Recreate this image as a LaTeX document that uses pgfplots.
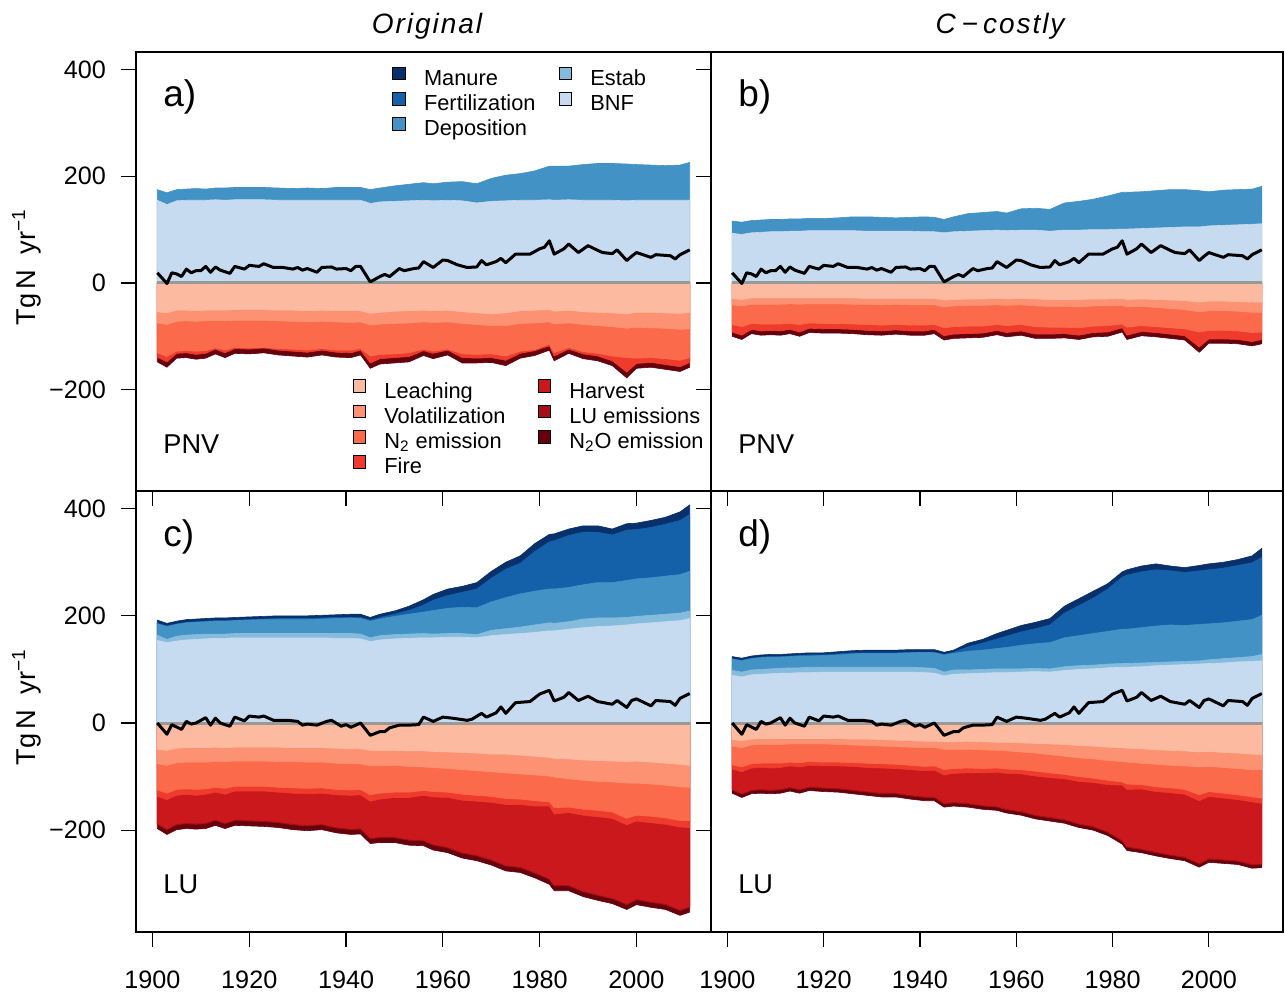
\documentclass[border=0pt]{standalone}
\usepackage{fontspec}
\setmainfont{Liberation Sans}
\usepackage{pgfplots}
\usepackage{pgfplotstable}
\pgfplotsset{compat=1.18}

\definecolor{cMan}{HTML}{08306B}
\definecolor{cFert}{HTML}{1561A9}
\definecolor{cDep}{HTML}{4292C6}
\definecolor{cEst}{HTML}{85BCDE}
\definecolor{cBNF}{HTML}{C6DBEF}
\definecolor{cLeach}{HTML}{FCBBA1}
\definecolor{cVol}{HTML}{FC9272}
\definecolor{cNtwo}{HTML}{FB6A4A}
\definecolor{cFire}{HTML}{EF3B2C}
\definecolor{cHarv}{HTML}{CB181D}
\definecolor{cLU}{HTML}{A50F15}
\definecolor{cNtwoO}{HTML}{67000D}

% ---------- panel a) PNV, Original ----------
\pgfplotstableread{
year dep bnf leach vol n2 fire tot
1901 175 155 -54 -75 -131 -139 -148
1903 169 147 -56 -78 -138 -148 -158
1905 175 154 -51 -72 -128 -132 -141
1907 176 155 -51 -71 -127 -131 -140
1909 177 155 -52 -72 -128 -134 -143
1911 176 155 -51 -71 -127 -132 -141
1913 178 156 -51 -70 -122 -124 -133
1915 178 155 -51 -71 -126 -131 -140
1917 179 156 -50 -70 -121 -123 -132
1920 179 156 -50 -70 -122 -124 -133
1923 179 156 -50 -70 -121 -122 -131
1926 178 155 -51 -71 -123 -126 -135
1929 177 155 -51 -72 -124 -128 -137
1932 178 155 -52 -73 -126 -130 -139
1935 177 155 -51 -72 -123 -126 -135
1938 179 155 -52 -73 -126 -130 -139
1941 179 155 -52 -74 -126 -131 -140
1943 179 155 -52 -73 -123 -126 -135
1945 175 149 -57 -79 -137 -150 -160
1947 178 152 -55 -77 -134 -142 -152
1950 182 153 -53 -76 -133 -140 -150
1953 185 154 -52 -75 -131 -138 -148
1956 188 155 -51 -73 -124 -127 -136
1958 186 154 -52 -74 -128 -132 -142
1961 189 155 -51 -73 -124 -126 -135
1964 190 154 -54 -76 -133 -140 -150
1967 186 150 -56 -78 -134 -141 -150
1970 196 153 -58 -80 -133 -140 -149
1973 202 154 -56 -80 -137 -145 -155
1976 205 155 -52 -76 -128 -132 -141
1979 210 155 -51 -75 -125 -127 -136
1982 219 156 -50 -73 -115 -118 -126
1983 219 155 -53 -77 -131 -137 -146
1986 219 156 -51 -75 -121 -124 -132
1989 222 155 -54 -78 -129 -133 -142
1992 224 155 -55 -80 -132 -137 -146
1995 224 155 -56 -82 -137 -146 -155
1998 223 154 -58 -85 -140 -167 -178
2000 222 155 -55 -83 -141 -151 -160
2003 221 155 -55 -84 -140 -149 -158
2006 220 155 -56 -85 -142 -153 -162
2009 221 155 -57 -87 -145 -157 -166
2011 226 155 -55 -86 -140 -149 -158
}\tabA

% ---------- panel b) PNV, C-costly ----------
\pgfplotstableread{
year dep bnf leach vol n2 fire tot
1901 116 93 -29 -41 -78 -92 -100
1903 114 91 -31 -43 -82 -98 -106
1905 117 94 -28 -40 -76 -87 -95
1907 118 95 -28 -40 -77 -90 -98
1909 119 96 -28 -40 -77 -89 -97
1911 119 96 -28 -40 -77 -90 -98
1913 120 97 -28 -39 -76 -87 -95
1915 120 97 -28 -40 -78 -92 -100
1917 121 98 -28 -39 -75 -85 -93
1920 121 98 -28 -39 -76 -86 -94
1923 122 98 -28 -39 -76 -86 -94
1926 124 98 -28 -40 -77 -87 -95
1929 124 97 -29 -40 -78 -89 -97
1932 123 97 -29 -41 -79 -90 -98
1935 122 97 -29 -40 -78 -88 -96
1938 123 97 -29 -41 -79 -90 -98
1941 124 96 -29 -41 -79 -90 -98
1943 123 96 -29 -41 -78 -87 -95
1945 119 94 -32 -45 -84 -99 -107
1947 124 96 -31 -43 -82 -96 -104
1950 130 97 -30 -42 -81 -95 -103
1953 132 98 -30 -42 -81 -94 -102
1956 134 99 -29 -41 -78 -89 -97
1958 131 98 -30 -42 -80 -93 -101
1961 139 99 -29 -41 -78 -90 -98
1964 140 99 -30 -43 -82 -96 -104
1967 138 97 -31 -44 -83 -96 -104
1970 150 99 -31 -44 -83 -95 -103
1973 153 99 -31 -45 -84 -98 -106
1976 157 100 -30 -43 -81 -93 -101
1979 163 100 -30 -43 -80 -92 -100
1982 170 101 -29 -42 -77 -84 -92
1983 170 101 -31 -45 -83 -98 -106
1986 171 102 -30 -44 -80 -91 -99
1989 173 103 -31 -46 -82 -93 -101
1992 175 104 -32 -48 -84 -96 -104
1995 175 105 -33 -50 -86 -99 -107
1998 173 105 -36 -54 -92 -120 -130
2000 171 107 -34 -52 -89 -105 -113
2003 174 108 -34 -52 -89 -105 -113
2006 175 109 -35 -53 -90 -106 -114
2009 176 110 -36 -55 -93 -110 -118
2011 181 111 -36 -55 -92 -106 -114
}\tabB

% ---------- panel c) LU, Original ----------
\pgfplotstableread{
year man fert dep est bnf leach vol n2 fire harv lu tot
1901 192 186 185 164 154 -49 -76 -125 -137 -187 -189 -197
1903 186 181 180 156 150 -51 -79 -131 -143 -197 -199 -208
1905 190 185 184 162 153 -47 -74 -124 -135 -188 -190 -199
1907 193 188 187 164 155 -46 -73 -123 -133 -186 -188 -197
1909 194 189 188 165 156 -46 -73 -124 -135 -187 -189 -198
1911 195 190 189 166 157 -46 -73 -123 -133 -186 -188 -197
1913 196 191 190 166 158 -45 -72 -120 -129 -180 -182 -191
1915 196 191 190 166 158 -46 -72 -122 -133 -186 -188 -197
1917 197 192 191 167 159 -45 -71 -118 -127 -180 -182 -191
1920 198 193 192 167 159 -45 -71 -118 -127 -181 -183 -192
1923 199 194 193 167 159 -45 -71 -118 -127 -182 -184 -193
1926 200 195 193 167 159 -45 -72 -120 -129 -184 -186 -195
1929 200 195 193 167 159 -46 -72 -121 -131 -188 -190 -199
1932 200 195 193 167 159 -46 -73 -122 -132 -190 -192 -201
1935 201 196 194 167 159 -46 -73 -121 -131 -188 -190 -199
1938 202 197 195 167 158 -47 -75 -124 -134 -194 -196 -205
1941 203 197 196 167 158 -48 -76 -125 -135 -197 -199 -208
1943 203 197 195 166 157 -48 -76 -124 -134 -196 -198 -207
1945 197 192 190 159 152 -51 -80 -134 -146 -214 -216 -225
1947 203 197 194 163 155 -51 -80 -131 -142 -212 -214 -223
1950 209 203 199 165 157 -51 -79 -129 -139 -212 -214 -223
1953 218 210 203 166 158 -52 -81 -129 -139 -217 -219 -228
1956 230 220 207 167 159 -52 -82 -126 -135 -218 -220 -229
1958 240 229 210 166 159 -53 -83 -128 -138 -226 -228 -237
1961 250 238 214 167 160 -54 -85 -129 -139 -231 -233 -242
1964 255 244 216 167 160 -55 -87 -133 -144 -241 -243 -252
1967 262 250 215 165 159 -56 -89 -135 -146 -246 -248 -257
1970 283 270 226 173 163 -58 -91 -137 -148 -254 -256 -265
1973 300 287 234 176 165 -58 -93 -141 -152 -265 -267 -276
1976 312 298 241 179 167 -60 -95 -142 -152 -268 -270 -279
1979 335 320 246 183 169 -62 -97 -145 -155 -278 -280 -289
1982 352 338 250 187 172 -64 -99 -147 -155 -290 -292 -301
1983 353 340 250 186 172 -66 -101 -158 -170 -302 -304 -313
1986 362 350 253 189 175 -67 -104 -157 -167 -302 -304 -313
1989 368 356 258 194 178 -69 -107 -161 -172 -313 -315 -324
1992 368 356 262 196 180 -70 -109 -163 -175 -320 -322 -331
1995 362 351 262 196 181 -71 -110 -166 -178 -326 -328 -337
1998 372 360 266 197 183 -72 -112 -178 -190 -337 -339 -348
2000 373 361 269 199 185 -71 -112 -172 -183 -328 -330 -339
2003 378 365 271 201 187 -73 -114 -174 -186 -333 -335 -344
2006 384 371 274 203 189 -75 -116 -177 -189 -337 -339 -348
2009 394 378 277 205 191 -77 -119 -182 -194 -348 -350 -359
2011 407 389 283 209 195 -79 -120 -182 -195 -342 -344 -353
}\tabC

% ---------- panel d) LU, C-costly ----------
\pgfplotstableread{
year man fert dep est bnf leach vol n2 fire harv lu tot
1901 124 120 119 98 89 -31 -43 -78 -86 -123 -125 -131
1903 121 117 116 95 86 -33 -46 -82 -91 -131 -133 -139
1905 125 121 120 99 90 -30 -41 -76 -84 -124 -126 -132
1907 127 123 122 100 91 -29 -40 -75 -83 -123 -125 -131
1909 128 124 123 101 92 -29 -40 -75 -84 -124 -126 -132
1911 128 124 123 102 93 -29 -40 -75 -83 -123 -125 -131
1913 129 125 124 103 93 -29 -39 -73 -80 -119 -121 -127
1915 130 126 125 103 94 -29 -39 -74 -82 -123 -125 -131
1917 131 127 125 104 94 -29 -39 -72 -79 -118 -120 -126
1920 131 127 126 104 95 -29 -39 -73 -80 -120 -122 -128
1923 133 129 127 104 95 -29 -40 -73 -80 -121 -123 -129
1926 135 131 129 104 95 -30 -41 -74 -81 -124 -126 -132
1929 136 131 130 104 95 -30 -42 -75 -83 -127 -129 -135
1932 136 131 130 104 95 -31 -43 -76 -84 -130 -132 -138
1935 136 131 130 104 95 -32 -44 -77 -85 -130 -132 -138
1938 137 132 131 104 95 -33 -45 -79 -87 -134 -136 -142
1941 137 132 132 103 94 -34 -46 -81 -89 -137 -139 -145
1943 137 132 131 102 93 -34 -46 -80 -88 -137 -139 -145
1945 132 128 127 95 88 -35 -49 -87 -97 -149 -151 -157
1947 136 132 130 99 91 -35 -49 -85 -94 -147 -149 -155
1950 149 142 134 99 92 -34 -49 -84 -93 -149 -151 -157
1953 156 149 136 100 93 -35 -50 -85 -93 -153 -155 -161
1956 167 157 139 101 94 -36 -51 -84 -92 -155 -157 -163
1958 173 162 141 101 94 -36 -52 -86 -94 -160 -162 -168
1961 182 170 145 101 95 -37 -54 -87 -95 -164 -166 -172
1964 188 176 148 102 96 -38 -56 -90 -99 -171 -173 -179
1967 195 183 150 101 95 -39 -59 -93 -102 -175 -177 -183
1970 218 205 159 105 98 -40 -62 -96 -104 -179 -181 -187
1973 232 219 163 107 100 -42 -65 -100 -109 -187 -189 -195
1976 246 233 167 108 101 -43 -67 -103 -111 -192 -194 -200
1979 260 250 171 110 103 -45 -70 -107 -115 -202 -204 -210
1982 282 272 175 111 104 -46 -72 -110 -116 -218 -220 -226
1983 286 276 175 111 104 -47 -73 -114 -124 -230 -232 -238
1986 293 282 178 112 105 -48 -75 -115 -123 -234 -236 -242
1989 297 286 181 113 107 -50 -77 -119 -128 -240 -242 -248
1992 293 284 183 114 108 -51 -79 -121 -130 -245 -247 -253
1995 290 281 182 115 109 -52 -80 -124 -133 -249 -251 -257
1998 294 284 184 116 110 -54 -82 -134 -145 -261 -263 -269
2000 297 286 185 118 111 -53 -81 -128 -137 -252 -254 -260
2003 300 289 187 120 112 -55 -83 -131 -140 -254 -256 -262
2006 305 294 190 122 114 -56 -85 -134 -143 -256 -258 -264
2009 312 299 193 124 115 -58 -87 -138 -147 -263 -265 -271
2011 326 309 201 128 116 -59 -87 -140 -150 -262 -264 -270
}\tabD

% ---------- net balance, PNV panels ----------
\pgfplotstableread{
year net
1901 19
1903 -1
1904 19
1905 17
1906 12
1907 26
1908 19
1909 23
1910 23
1911 31
1912 20
1913 30
1914 24
1916 18
1917 31
1919 26
1920 33
1922 31
1923 36
1925 29
1927 29
1929 26
1930 29
1931 24
1932 27
1934 20
1935 29
1937 30
1938 26
1940 27
1941 23
1942 31
1943 31
1945 2
1947 12
1948 16
1949 12
1951 27
1952 23
1954 27
1955 28
1956 40
1958 29
1960 43
1961 42
1963 34
1965 29
1967 30
1968 42
1969 34
1971 40
1972 46
1973 38
1975 54
1978 54
1980 64
1981 67
1982 79
1983 54
1985 64
1986 73
1988 57
1990 70
1992 61
1993 57
1995 55
1996 62
1998 42
1999 50
2000 57
2003 48
2004 53
2007 51
2008 45
2009 53
2011 62
}\netPNV

% ---------- net balance, LU panels ----------
\pgfplotstableread{
year net
1901 0
1903 -21
1904 -3
1906 -12
1907 3
1908 -2
1909 0
1911 10
1912 -4
1913 9
1914 0
1916 -6
1917 11
1919 4
1920 13
1922 11
1923 13
1925 5
1928 5
1930 3
1931 -4
1932 -2
1934 -4
1936 3
1937 5
1939 -6
1940 -3
1941 -8
1943 0
1945 -23
1947 -16
1948 -16
1949 -9
1951 -4
1953 -4
1955 -3
1956 11
1958 3
1960 11
1962 9
1965 5
1966 7
1968 18
1969 11
1971 19
1972 30
1973 18
1975 38
1978 40
1980 54
1982 61
1983 41
1985 48
1986 57
1988 42
1990 50
1992 40
1995 35
1996 42
1998 29
1999 42
2000 45
2003 32
2004 42
2007 40
2008 33
2009 46
2011 55
}\netLU

\pgfplotsset{
  panel/.style={
    scale only axis,
    xmin=1896.6, xmax=2015.4, ymin=-390, ymax=433,
    axis line style={line width=0.8pt},
    tick align=outside, xtick pos=left, ytick pos=left,
    major tick length=7.5pt,
    tick style={line width=0.6pt, black},
    xtick={1900,1920,1940,1960,1980,2000},
    ytick={-200,0,200,400},
    tick label style={font=\fontsize{12.6}{14}\selectfont},
    xticklabel style={yshift=-8.5pt},
    yticklabel style={xshift=-4pt},
    ylabel style={font=\fontsize{13.6}{15}\selectfont, at={(axis description cs:-0.19,0.51)}, anchor=center},
    clip=true,
  },
  xlab/.style={xticklabels={1900,1920,1940,1960,1980,2000}},
  xnolab/.style={xticklabels={{},{},{},{},{},{}}},
  ylab/.style={yticklabels={−200,0,200,400}},
  ynolab/.style={yticklabels={{},{},{},{}}},
  band/.style={draw=#1, line width=0.3pt, fill=#1},
  lgbox/.style={legend image code/.code={\draw[##1, draw=black, line width=0.5pt] (0pt,0.3pt) rectangle (6.4pt,6.7pt);}},
}
\tikzset{
  panellab/.style={anchor=base west, inner sep=0pt, font=\fontsize{18.5}{20}\selectfont},
  scenlab/.style={anchor=base west, inner sep=0pt, font=\fontsize{13.6}{15}\selectfont},
}

\begin{document}
\begin{tikzpicture}
\useasboundingbox (0,0) rectangle (642.5pt,497pt);

\node[anchor=base, font=\fontsize{14}{16}\selectfont\itshape\addfontfeature{LetterSpace=7}] at (213.5pt,480pt) {Original};
\node[anchor=base, font=\fontsize{14}{16}\selectfont\itshape\addfontfeature{LetterSpace=7}] at (500pt,480pt) {C\hspace{3pt}−\hspace{2.5pt}costly};

% ===== a) =====
\begin{axis}[panel, xnolab, ylab, at={(68pt,251.5pt)}, anchor=south west, width=287.5pt, height=219.5pt,
  ylabel={Tg\,N\ \ yr\textsuperscript{−1}},
  legend columns=2, legend cell align=left,
  legend style={draw=none, fill=none, inner sep=2pt, at={(axis description cs:0.438,0.9765)}, anchor=north west,
    font=\fontsize{10.9}{12}\selectfont, row sep=0pt,
    nodes={inner sep=1pt, text height=7.1pt, text depth=2.2pt},
    /tikz/every odd column/.append style={column sep=8pt},
    /tikz/every even column/.append style={column sep=10.5pt}}]
\addplot[band=cDep, forget plot] table[x=year,y=dep]{\tabA} \closedcycle;
\addplot[band=cBNF, forget plot] table[x=year,y=bnf]{\tabA} \closedcycle;
\addplot[band=cNtwoO, forget plot] table[x=year,y=tot]{\tabA} \closedcycle;
\addplot[band=cFire, forget plot] table[x=year,y=fire]{\tabA} \closedcycle;
\addplot[band=cNtwo, forget plot] table[x=year,y=n2]{\tabA} \closedcycle;
\addplot[band=cVol, forget plot] table[x=year,y=vol]{\tabA} \closedcycle;
\addplot[band=cLeach, forget plot] table[x=year,y=leach]{\tabA} \closedcycle;
\addplot[black!40, line width=1.5pt, forget plot] coordinates {(1901,0) (2011,0)};
\addplot[black, line width=1.5pt, line join=round, forget plot] table[x=year,y=net]{\netPNV};
\addlegendimage{lgbox, fill=cMan}\addlegendentry{Manure}
\addlegendimage{lgbox, fill=cEst}\addlegendentry{Estab}
\addlegendimage{lgbox, fill=cFert}\addlegendentry{Fertilization}
\addlegendimage{lgbox, fill=cBNF}\addlegendentry{BNF}
\addlegendimage{lgbox, fill=cDep}\addlegendentry{Deposition}
\node[panellab] at (axis description cs:0.047,0.875) {a)};
\node[scenlab] at (axis description cs:0.047,0.085) {PNV};
\end{axis}

% red legend overlay for a)
\begin{axis}[scale only axis, at={(68pt,251.5pt)}, anchor=south west, width=287.5pt, height=219.5pt,
  xmin=1896.6, xmax=2015.4, ymin=-390, ymax=433, hide axis,
  legend columns=2, legend cell align=left,
  legend style={draw=none, fill=none, inner sep=2pt, at={(axis description cs:0.369,0.264)}, anchor=north west,
    font=\fontsize{10.9}{12}\selectfont, row sep=0pt,
    nodes={inner sep=1pt, text height=7.1pt, text depth=2.2pt},
    /tikz/every odd column/.append style={column sep=8pt},
    /tikz/every even column/.append style={column sep=15pt}}]
\addlegendimage{lgbox, fill=cLeach}\addlegendentry{Leaching}
\addlegendimage{lgbox, fill=cHarv}\addlegendentry{Harvest}
\addlegendimage{lgbox, fill=cVol}\addlegendentry{Volatilization}
\addlegendimage{lgbox, fill=cLU}\addlegendentry{LU emissions}
\addlegendimage{lgbox, fill=cNtwo}\addlegendentry{N\textsubscript{2} emission}
\addlegendimage{lgbox, fill=cNtwoO}\addlegendentry{N\textsubscript{2}O emission}
\addlegendimage{lgbox, fill=cFire}\addlegendentry{Fire}
\end{axis}

% ===== b) =====
\begin{axis}[panel, xnolab, ynolab, at={(355.5pt,251.5pt)}, anchor=south west, width=286pt, height=219.5pt]
\addplot[band=cDep] table[x=year,y=dep]{\tabB} \closedcycle;
\addplot[band=cBNF] table[x=year,y=bnf]{\tabB} \closedcycle;
\addplot[band=cNtwoO] table[x=year,y=tot]{\tabB} \closedcycle;
\addplot[band=cFire] table[x=year,y=fire]{\tabB} \closedcycle;
\addplot[band=cNtwo] table[x=year,y=n2]{\tabB} \closedcycle;
\addplot[band=cVol] table[x=year,y=vol]{\tabB} \closedcycle;
\addplot[band=cLeach] table[x=year,y=leach]{\tabB} \closedcycle;
\addplot[black!40, line width=1.5pt] coordinates {(1901,0) (2011,0)};
\addplot[black, line width=1.5pt, line join=round] table[x=year,y=net]{\netPNV};
\node[panellab] at (axis description cs:0.047,0.875) {b)};
\node[scenlab] at (axis description cs:0.047,0.085) {PNV};
\end{axis}

% ===== c) =====
\begin{axis}[panel, xlab, ylab, at={(68pt,31pt)}, anchor=south west, width=287.5pt, height=220.5pt,
  ylabel={Tg\,N\ \ yr\textsuperscript{−1}}]
\addplot[band=cMan] table[x=year,y=man]{\tabC} \closedcycle;
\addplot[band=cFert] table[x=year,y=fert]{\tabC} \closedcycle;
\addplot[band=cDep] table[x=year,y=dep]{\tabC} \closedcycle;
\addplot[band=cEst] table[x=year,y=est]{\tabC} \closedcycle;
\addplot[band=cBNF] table[x=year,y=bnf]{\tabC} \closedcycle;
\addplot[band=cNtwoO] table[x=year,y=tot]{\tabC} \closedcycle;
\addplot[band=cLU] table[x=year,y=lu]{\tabC} \closedcycle;
\addplot[band=cHarv] table[x=year,y=harv]{\tabC} \closedcycle;
\addplot[band=cFire] table[x=year,y=fire]{\tabC} \closedcycle;
\addplot[band=cNtwo] table[x=year,y=n2]{\tabC} \closedcycle;
\addplot[band=cVol] table[x=year,y=vol]{\tabC} \closedcycle;
\addplot[band=cLeach] table[x=year,y=leach]{\tabC} \closedcycle;
\addplot[black!40, line width=1.5pt] coordinates {(1901,0) (2011,0)};
\addplot[black, line width=1.5pt, line join=round] table[x=year,y=net]{\netLU};
\node[panellab] at (axis description cs:0.047,0.873) {c)};
\node[scenlab] at (axis description cs:0.047,0.087) {LU};
\end{axis}

% ===== d) =====
\begin{axis}[panel, xlab, ynolab, at={(355.5pt,31pt)}, anchor=south west, width=286pt, height=220.5pt]
\addplot[band=cMan] table[x=year,y=man]{\tabD} \closedcycle;
\addplot[band=cFert] table[x=year,y=fert]{\tabD} \closedcycle;
\addplot[band=cDep] table[x=year,y=dep]{\tabD} \closedcycle;
\addplot[band=cEst] table[x=year,y=est]{\tabD} \closedcycle;
\addplot[band=cBNF] table[x=year,y=bnf]{\tabD} \closedcycle;
\addplot[band=cNtwoO] table[x=year,y=tot]{\tabD} \closedcycle;
\addplot[band=cLU] table[x=year,y=lu]{\tabD} \closedcycle;
\addplot[band=cHarv] table[x=year,y=harv]{\tabD} \closedcycle;
\addplot[band=cFire] table[x=year,y=fire]{\tabD} \closedcycle;
\addplot[band=cNtwo] table[x=year,y=n2]{\tabD} \closedcycle;
\addplot[band=cVol] table[x=year,y=vol]{\tabD} \closedcycle;
\addplot[band=cLeach] table[x=year,y=leach]{\tabD} \closedcycle;
\addplot[black!40, line width=1.5pt] coordinates {(1901,0) (2011,0)};
\addplot[black, line width=1.5pt, line join=round] table[x=year,y=net]{\netLU};
\node[panellab] at (axis description cs:0.047,0.873) {d)};
\node[scenlab] at (axis description cs:0.047,0.087) {LU};
\end{axis}
\end{tikzpicture}
\end{document}
